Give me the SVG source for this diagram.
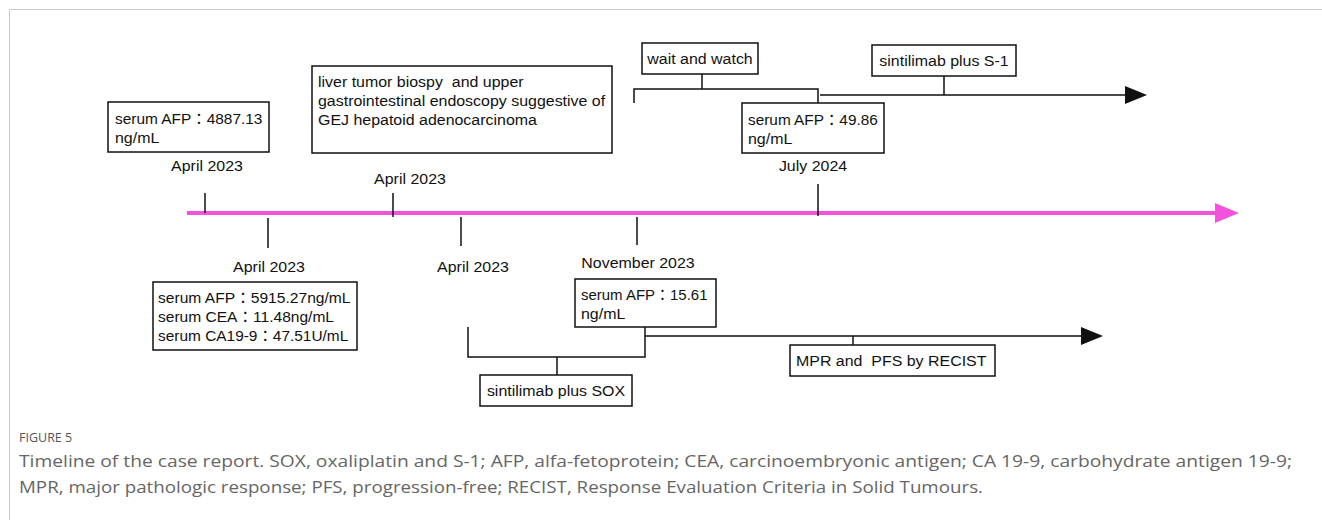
<svg xmlns="http://www.w3.org/2000/svg" width="1322" height="520" viewBox="0 0 1322 520">
<style>
.t{font-family:"Liberation Sans","Noto Sans CJK JP",Arial,sans-serif;font-size:14.5px;fill:#111}
.m{text-anchor:middle}
.box{fill:#fff;stroke:#111;stroke-width:1.5}
.ln{fill:none;stroke:#111;stroke-width:1.5}
.cap{font-family:"Open Sans","Lato",sans-serif;fill:#666;font-size:16px}
</style>
<rect width="1322" height="520" fill="#fff"/>
<path d="M9.5,520 V9.5 H1322" fill="none" stroke="#c8c8c8" stroke-width="1"/>
<g id="connectors">
  <path d="M187,213 H1216" stroke="#f452dc" stroke-width="4" fill="none"/>
  <polygon points="1215,203 1239,213 1215,223" fill="#f452dc"/>
  <path class="ln" d="M205,193 V213 M393,193 V217 M818,184 V216 M268,218 V248 M461,217 V246 M637,217 V245"/>
  <path class="ln" d="M634,103 V89 H818 V103 M702,74 V89 M944,76 V95 M820,95 H1127"/>
  <polygon points="1125,86 1147,95 1125,104" fill="#111"/>
  <path class="ln" d="M468,327 V357 H645 V327 M557,357 V375 M645,336 H1083 M853,336 V345"/>
  <polygon points="1081,327 1103,336 1081,345" fill="#111"/>
</g>
<g id="n1">
  <rect class="box" x="108" y="102" width="161" height="50"/>
  <text class="t" transform="translate(115 124) scale(1.1 1)" textLength="134" lengthAdjust="spacingAndGlyphs">serum AFP：4887.13</text>
  <text class="t" transform="translate(115 143) scale(1.1 1)">ng/mL</text>
</g>
<g id="d1"><text class="t m" transform="translate(207 171) scale(1.1 1)">April 2023</text></g>
<g id="n2">
  <rect class="box" x="312" y="66" width="300" height="87"/>
  <text class="t" transform="translate(318 87) scale(1.1 1)">liver tumor biospy&#160; and upper</text>
  <text class="t" transform="translate(318 106) scale(1.1 1)">gastrointestinal endoscopy suggestive of</text>
  <text class="t" transform="translate(318 125) scale(1.1 1)">GEJ hepatoid adenocarcinoma</text>
</g>
<g id="d2"><text class="t m" transform="translate(410 184) scale(1.1 1)">April 2023</text></g>
<g id="n3">
  <rect class="box" x="642" y="43" width="116" height="31"/>
  <text class="t m" transform="translate(700 64) scale(1.1 1)">wait and watch</text>
</g>
<g id="n4">
  <rect class="box" x="872" y="45" width="144" height="31"/>
  <text class="t m" transform="translate(944 66) scale(1.1 1)">sintilimab plus S-1</text>
</g>
<g id="n5">
  <rect class="box" x="742" y="103" width="142" height="50"/>
  <text class="t" transform="translate(748 125) scale(1.1 1)" textLength="118" lengthAdjust="spacingAndGlyphs">serum AFP：49.86</text>
  <text class="t" transform="translate(748 144) scale(1.1 1)">ng/mL</text>
</g>
<g id="d5"><text class="t m" transform="translate(813 171) scale(1.1 1)">July 2024</text></g>
<g id="d3"><text class="t m" transform="translate(269 272) scale(1.1 1)">April 2023</text></g>
<g id="n6">
  <rect class="box" x="153" y="282" width="204" height="68"/>
  <text class="t" transform="translate(158 303) scale(1.1 1)" textLength="175" lengthAdjust="spacingAndGlyphs">serum AFP：5915.27ng/mL</text>
  <text class="t" transform="translate(158 322) scale(1.1 1)" textLength="160" lengthAdjust="spacingAndGlyphs">serum CEA：11.48ng/mL</text>
  <text class="t" transform="translate(158 341) scale(1.1 1)" textLength="173" lengthAdjust="spacingAndGlyphs">serum CA19-9：47.51U/mL</text>
</g>
<g id="d4"><text class="t m" transform="translate(473 272) scale(1.1 1)">April 2023</text></g>
<g id="d6"><text class="t m" transform="translate(638 268) scale(1.1 1)">November 2023</text></g>
<g id="n7">
  <rect class="box" x="575" y="279" width="141" height="48"/>
  <text class="t" transform="translate(581 300) scale(1.1 1)" textLength="115" lengthAdjust="spacingAndGlyphs">serum AFP：15.61</text>
  <text class="t" transform="translate(581 319) scale(1.1 1)">ng/mL</text>
</g>
<g id="n8">
  <rect class="box" x="480" y="375" width="152" height="31"/>
  <text class="t m" transform="translate(556 396) scale(1.1 1)">sintilimab plus SOX</text>
</g>
<g id="n9">
  <rect class="box" x="790" y="345" width="205" height="31"/>
  <text class="t" transform="translate(796 366) scale(1.1 1)">MPR and&#160; PFS by RECIST</text>
</g>
<g id="caption">
  <text x="19" y="442" font-family="Open Sans, Lato, sans-serif" font-size="12.5" fill="#555">FIGURE 5</text>
  <text class="cap" x="19" y="467" textLength="1273" lengthAdjust="spacingAndGlyphs">Timeline of the case report. SOX, oxaliplatin and S-1; AFP, alfa-fetoprotein; CEA, carcinoembryonic antigen; CA 19-9, carbohydrate antigen 19-9;</text>
  <text class="cap" x="19" y="493" textLength="964" lengthAdjust="spacingAndGlyphs">MPR, major pathologic response; PFS, progression-free; RECIST, Response Evaluation Criteria in Solid Tumours.</text>
</g>
</svg>
